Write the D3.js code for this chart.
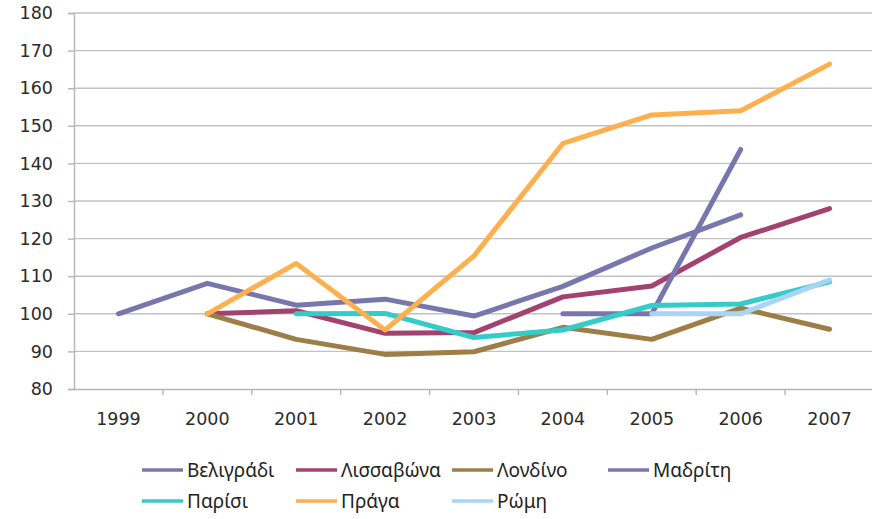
<!DOCTYPE html>
<html>
<head>
<meta charset="utf-8">
<script src="https://cdn.jsdelivr.net/npm/d3@7"></script>
<style>
	body{ margin: 0; background: #fff; }
	.axis text{ font-family: "DejaVu Sans", Verdana, sans-serif; font-size: 17.5px; fill: #2b2b2b; }
	.legend text{ font-family: "Noto Sans", sans-serif; font-size: 19px; fill: #222; }
</style>
</head>
<body>
<div id="chart"></div>
<script>
	// years on the category axis
	const years = ['1999','2000','2001','2002','2003','2004','2005','2006','2007'];
	const yTicks = [80,90,100,110,120,130,140,150,160,170,180];

	// index values (null = no value)
	const beligradi  = [100, 108.1, 102.3, 103.9, 99.4, 107.3, 117.5, 126.3, null];
	const lisavona   = [null, 100, 100.8, 94.8, 95.0, 104.5, 107.4, 120.3, 128];
	const londino    = [null, 100, 93.2, 89.2, 89.9, 96.4, 93.2, 101.5, 95.9];
	const madriti    = [null, null, null, null, null, 100, 100, 143.7, null];
	const parisi     = [null, null, 100, 100.1, 93.7, 95.7, 102.2, 102.6, 108.5];
	const praga      = [null, 100, 113.4, 95.7, 115.4, 145.3, 152.9, 154, 166.4];
	const romi       = [null, null, null, null, null, null, 100, 100, 109];

	const names  = ['Βελιγράδι','Λισσαβώνα','Λονδίνο','Μαδρίτη','Παρίσι','Πράγα','Ρώμη'];
	const values = [beligradi, lisavona, londino, madriti, parisi, praga, romi];
	const colors = ['#7777ad','#a3426f','#9c7e46','#7777ad','#35cbc8','#ffb04e','#a8d4f6'];

	const W = 872, H = 519;
	const margin = {top: 13, left: 74, right: -2, bottom: 130};
	const width = W - margin.left - margin.right,
	      height = H - margin.top - margin.bottom;

	const svg = d3.select('#chart').append('svg')
		.attr('width', W).attr('height', H);
	const g = svg.append('g').attr('transform', `translate(${margin.left},${margin.top})`);

	const x = d3.scaleBand().domain(years).range([0, width]).padding(0);
	const y = d3.scaleLinear().domain([80, 180]).range([height, 0]);

	// gridlines
	g.append('g').selectAll('line').data(yTicks.filter(t => t > 80)).join('line')
		.attr('x1', 0).attr('x2', width)
		.attr('y1', d => y(d)).attr('y2', d => y(d))
		.attr('stroke', '#c2c2c2').attr('stroke-width', 1.4);

	// y axis
	const ya = g.append('g').attr('class', 'axis')
		.call(d3.axisLeft(y).tickValues(yTicks).tickSize(6).tickPadding(15));
	ya.selectAll('line, path').attr('stroke', '#b5b5b5').attr('stroke-width', 1.4);

	// x axis: labels centred, ticks on the band edges
	const xa = g.append('g').attr('class', 'axis')
		.attr('transform', `translate(0,${height})`)
		.call(d3.axisBottom(x).tickSize(0).tickPadding(24));
	xa.select('.domain').attr('stroke', '#b5b5b5').attr('stroke-width', 1.4);
	xa.append('g').selectAll('line').data(years.slice(1)).join('line')
		.attr('x1', d => x(d)).attr('x2', d => x(d))
		.attr('y1', 0).attr('y2', 6)
		.attr('stroke', '#b5b5b5').attr('stroke-width', 1.4);

	const line = d3.line()
		.defined(d => d != null)
		.x((d, i) => x(years[i]) + x.bandwidth() / 2)
		.y(d => y(d));

	g.append('g').selectAll('path').data(values).join('path')
		.attr('fill', 'none')
		.attr('stroke', (d, i) => colors[i])
		.attr('stroke-width', 5)
		.attr('stroke-linejoin', 'round')
		.attr('stroke-linecap', 'round')
		.attr('d', d => line(d));

	// legend, 4 per row
	const colX = [142, 296, 452, 608], rowY = [470, 501];
	const leg = svg.append('g').attr('class', 'legend')
		.selectAll('g').data(names).join('g')
		.attr('transform', (d, i) => `translate(${colX[i % 4]},${rowY[Math.floor(i / 4)]})`);
	leg.append('line')
		.attr('x1', 0).attr('x2', 41).attr('y1', 0).attr('y2', 0)
		.attr('stroke', (d, i) => colors[i]).attr('stroke-width', 3.5);
	leg.append('text')
		.attr('x', 45).attr('dy', '0.35em')
		.text(d => d);
</script>
</body>
</html>
